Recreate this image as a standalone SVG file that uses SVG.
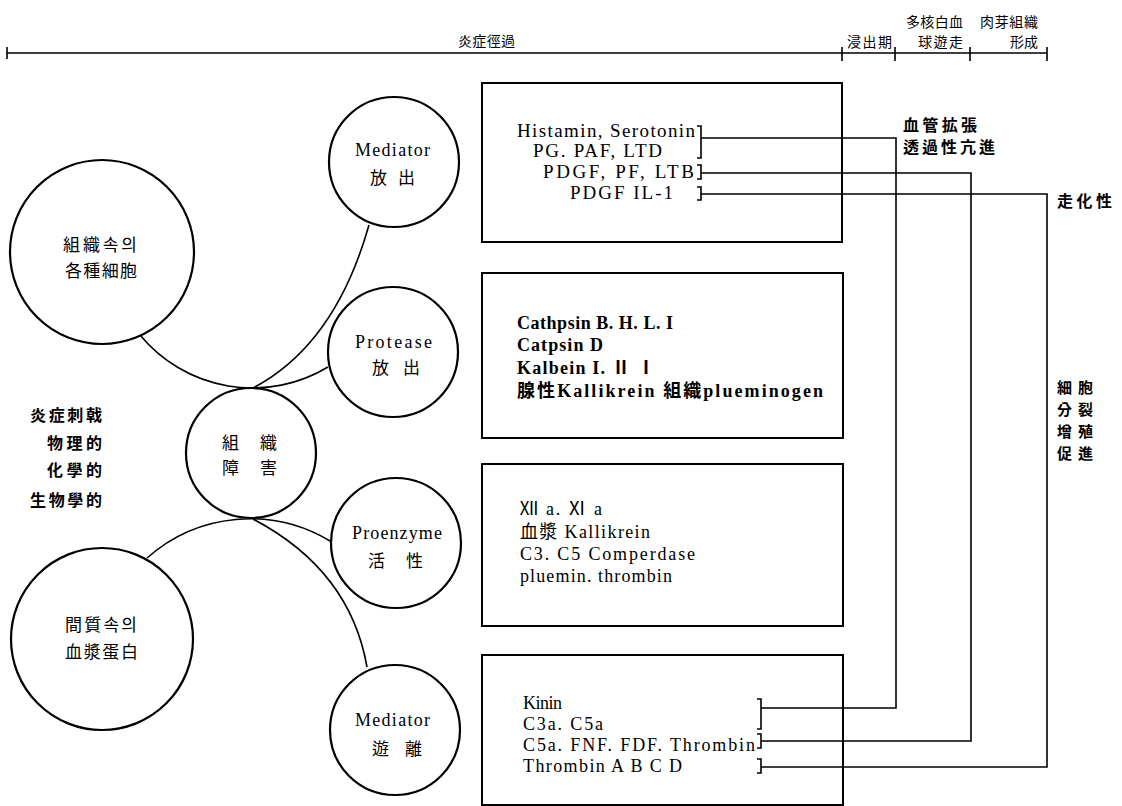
<svg xmlns="http://www.w3.org/2000/svg" width="1122" height="806" viewBox="0 0 1122 806">
<style>
.bg{fill:#fff}
.circ{fill:#fff;stroke:#000;stroke-width:2.2}
.box{fill:none;stroke:#000;stroke-width:2}
.ln{fill:none;stroke:#000;stroke-width:1.6}
.ser{font-family:"Liberation Serif","Noto Sans CJK KR",serif;font-size:19px;fill:#000}
.ser4{font-family:"Liberation Serif","Noto Sans CJK KR",serif;font-size:18px;fill:#000}
.cs{font-family:"Liberation Serif","Noto Sans CJK KR",serif;font-size:18px;fill:#000}
.cjk{font-family:"Noto Sans CJK KR","Noto Sans CJK SC",sans-serif;font-size:17px;fill:#000}
.cjkb{font-family:"Noto Sans CJK KR","Noto Sans CJK SC",sans-serif;font-size:16px;font-weight:bold;fill:#000}
.cjks{font-family:"Noto Sans CJK KR","Noto Sans CJK SC",sans-serif;font-size:15px;font-weight:bold;fill:#000}
.tl{font-family:"Noto Sans CJK KR","Noto Sans CJK SC",sans-serif;font-size:14px;fill:#000}
.b{font-weight:bold;font-size:18px}
.end{text-anchor:end}
</style>
<rect class="bg" x="0" y="0" width="1122" height="806"/>

<g id="timeline">
  <path class="ln" d="M7,53 H1047 M7,47 V59 M842,47 V61 M895,47 V61 M970,47 V61 M1047,47 V61"/>
  <text class="tl" x="458" y="46" textLength="57">炎症徑過</text>
  <text class="tl" x="847" y="47" textLength="45">浸出期</text>
  <text class="tl" x="906" y="27" textLength="57">多核白血</text>
  <text class="tl" x="918" y="47" textLength="45">球遊走</text>
  <text class="tl" x="980" y="27" textLength="58">肉芽組織</text>
  <text class="tl" x="1010" y="47" textLength="28">形成</text>
</g>

<g id="connectors">
  <path class="ln" d="M140,335 A146,146 0 0,0 328,367"/>
  <path class="ln" d="M369,225 Q335,345 253,388"/>
  <path class="ln" d="M147,558 A155,155 0 0,1 330,541"/>
  <path class="ln" d="M253,519 Q350,570 367,667"/>
  <path class="ln" d="M697,126 H701 V158 H697 M701,138 H896 V708 H761 M757,699 H761 V729 H757"/>
  <path class="ln" d="M697,165 H701 V179 H697 M701,173 H971 V741 H761 M757,734 H761 V748 H757"/>
  <path class="ln" d="M697,187 H701 V200 H697 M701,194 H1047 V767 H761 M757,759 H761 V773 H757"/>
</g>

<g id="node-cells">
  <circle class="circ" cx="102" cy="252" r="92"/>
  <text class="cjk" x="63" y="251" textLength="74">組織속의</text>
  <text class="cjk" x="65" y="277" textLength="72">各種細胞</text>
</g>

<g id="node-plasma">
  <circle class="circ" cx="102" cy="639" r="91"/>
  <text class="cjk" x="65" y="631" textLength="72">間質속의</text>
  <text class="cjk" x="65" y="658" textLength="73">血漿蛋白</text>
</g>

<g id="node-damage">
  <circle class="circ" cx="251" cy="453" r="65"/>
  <text class="cjk" x="222" y="449" textLength="55">組　織</text>
  <text class="cjk" x="222" y="474" textLength="55">障　害</text>
</g>

<g id="node-mediator-release">
  <circle class="circ" cx="394" cy="162" r="65"/>
  <text class="cs" x="355" y="156" textLength="75">Mediator</text>
  <text class="cjk" x="370" y="184" textLength="45">放 出</text>
</g>

<g id="node-protease">
  <circle class="circ" cx="393" cy="352" r="65"/>
  <text class="cs" x="355" y="348" textLength="77">Protease</text>
  <text class="cjk" x="372" y="374" textLength="48">放 出</text>
</g>

<g id="node-proenzyme">
  <circle class="circ" cx="396" cy="543" r="65"/>
  <text class="cs" x="352" y="539" textLength="90">Proenzyme</text>
  <text class="cjk" x="368" y="567" textLength="55">活　性</text>
</g>

<g id="node-mediator-free">
  <circle class="circ" cx="395" cy="730" r="65"/>
  <text class="cs" x="355" y="726" textLength="75">Mediator</text>
  <text class="cjk" x="372" y="755" textLength="50">遊 離</text>
</g>

<g id="stimulus-label">
  <text class="cjkb end" x="102" y="421" textLength="72">炎症刺戟</text>
  <text class="cjkb end" x="102" y="449" textLength="55">物理的</text>
  <text class="cjkb end" x="102" y="476" textLength="55">化學的</text>
  <text class="cjkb end" x="102" y="506" textLength="72">生物學的</text>
</g>

<g id="box-mediator">
  <rect class="box" x="482" y="83" width="360" height="159"/>
  <text class="ser" x="517" y="137" textLength="178">Histamin,  Serotonin</text>
  <text class="ser" x="533" y="157" textLength="129">PG. PAF, LTD</text>
  <text class="ser" x="543" y="178" textLength="151">PDGF, PF, LTB</text>
  <text class="ser" x="570" y="199" textLength="103">PDGF  IL-1</text>
</g>

<g id="box-protease">
  <rect class="box" x="482" y="273" width="361" height="165"/>
  <text class="ser b" x="517" y="329" textLength="156">Cathpsin  B. H. L. I</text>
  <text class="ser b" x="517" y="351" textLength="86">Catpsin  D</text>
  <text class="ser b" x="517" y="374" textLength="138">Kalbein  I.  Ⅱ  Ⅰ</text>
  <text class="ser b" x="517" y="397" textLength="306">腺性Kallikrein 組織plueminogen</text>
</g>

<g id="box-proenzyme">
  <rect class="box" x="482" y="464" width="361" height="162"/>
  <text class="ser4" x="520" y="515" textLength="82">Ⅻ a.  Ⅺ a</text>
  <text class="ser4" x="520" y="538" textLength="130">血漿 Kallikrein</text>
  <text class="ser4" x="520" y="560" textLength="175">C3. C5 Comperdase</text>
  <text class="ser4" x="520" y="582" textLength="152">pluemin.  thrombin</text>
</g>

<g id="box-mediator-free">
  <rect class="box" x="482" y="655" width="361" height="150"/>
  <text class="ser4" x="523" y="709" textLength="39">Kinin</text>
  <text class="ser4" x="523" y="730" textLength="80">C3a.  C5a</text>
  <text class="ser4" x="523" y="751" textLength="232">C5a.  FNF.  FDF.  Thrombin</text>
  <text class="ser4" x="523" y="772" textLength="159">Thrombin   A B C D</text>
</g>

<g id="effect-labels">
  <text class="cjkb" x="903" y="131" textLength="74">血管拡張</text>
  <text class="cjkb" x="903" y="153" textLength="92">透過性亢進</text>
  <text class="cjkb" x="1057" y="207" textLength="55">走化性</text>
  <text class="cjks" x="1057" y="393" textLength="36">細胞</text>
  <text class="cjks" x="1057" y="415" textLength="36">分裂</text>
  <text class="cjks" x="1057" y="437" textLength="36">增殖</text>
  <text class="cjks" x="1057" y="459" textLength="36">促進</text>
</g>
</svg>
